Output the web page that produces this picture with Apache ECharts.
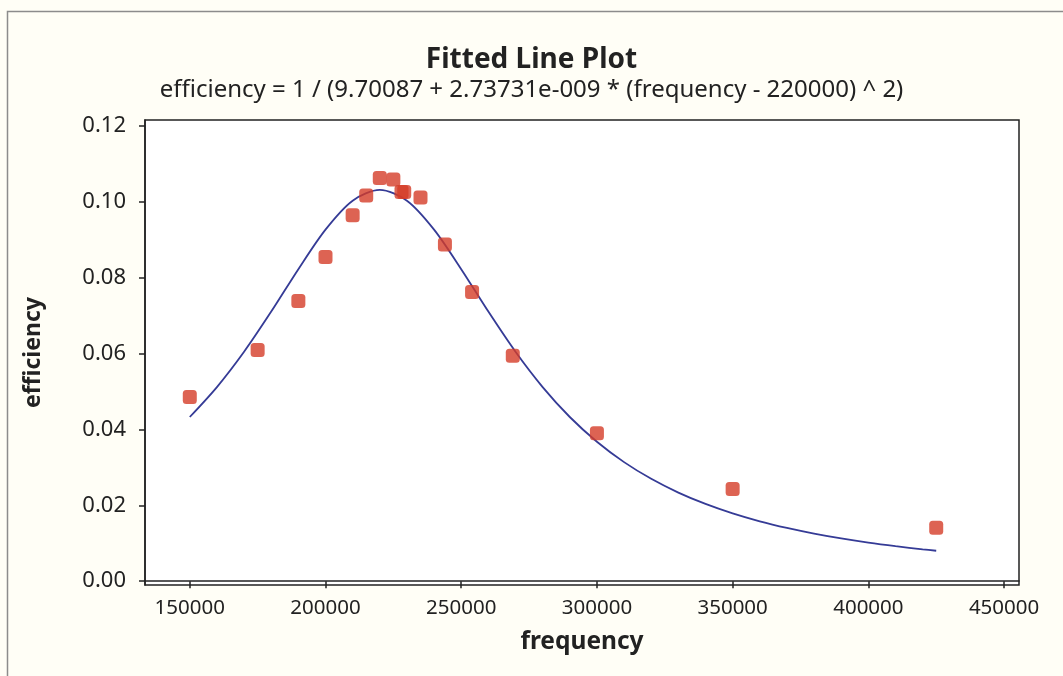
<!DOCTYPE html>
<html>
<head>
<meta charset="utf-8">
<title>Fitted Line Plot</title>
<script src="https://cdn.jsdelivr.net/npm/echarts@6/dist/echarts.min.js"></script>
<style>
  html, body { margin: 0; padding: 0; background: #fffef6; }
  #chart { width: 1063px; height: 676px; }
</style>
</head>
<body>
<div id="chart"></div>
<script>
// Measured points: frequency vs. efficiency
const frequency = [150000, 175000, 190000, 200000, 210000, 215000, 220000, 225000,
                   228000, 229000, 235000, 244000, 254000, 269000, 300000, 350000, 425000];
const efficiency = [0.0485, 0.0609, 0.0738, 0.0854, 0.0964, 0.1016, 0.1062, 0.1058,
                    0.1025, 0.1025, 0.1011, 0.0887, 0.0762, 0.0594, 0.0390, 0.0243, 0.0141];

// Fitted curve, sampled along the frequency range
const fitFrequency = [150000, 160000, 170000, 180000, 190000, 200000, 210000, 220000,
                      230000, 240000, 250000, 260000, 270000, 280000, 290000, 300000,
                      310000, 320000, 330000, 340000, 350000, 360000, 370000, 380000,
                      390000, 400000, 410000, 420000, 425000];
const fitEfficiency = [0.04326, 0.05114, 0.06044, 0.07102, 0.08221, 0.09263, 0.10025, 0.10308,
                       0.10025, 0.09263, 0.08221, 0.07102, 0.06044, 0.05114, 0.04326, 0.03674,
                       0.03137, 0.02697, 0.02335, 0.02036, 0.01787, 0.01578, 0.01403, 0.01254,
                       0.01126, 0.01016, 0.00922, 0.00839, 0.00802];

// Tick labels
const xTicks = [150000, 200000, 250000, 300000, 350000, 400000, 450000];
const yTicks = [0.00, 0.02, 0.04, 0.06, 0.08, 0.10, 0.12];

const titleText = 'Fitted Line Plot';
const equationText = 'efficiency = 1 / (9.70087 + 2.73731e-009 * (frequency - 220000) ^ 2)';

const FONT = '"Noto Sans", "DejaVu Sans", sans-serif';
const INK = '#222222';

const chart = echarts.init(document.getElementById('chart'), null, { renderer: 'canvas' });

chart.setOption({
  backgroundColor: '#fffef6',
  animation: false,
  title: {
    text: titleText,
    subtext: equationText,
    left: 'center',
    top: 41,
    itemGap: 4,
    textStyle: { fontFamily: FONT, fontSize: 28, fontWeight: 'bold', color: INK },
    subtextStyle: { fontFamily: FONT, fontSize: 24, color: INK }
  },
  graphic: [{
    type: 'rect',
    left: 5, top: 9,
    shape: { width: 1100, height: 700 },
    style: { fill: 'none', stroke: '#8c8c8c', lineWidth: 1.5 },
    silent: true,
    z: -1
  }],
  grid: {
    left: 145, right: 44, top: 120, bottom: 91,
    show: true,
    backgroundColor: '#ffffff',
    borderColor: INK,
    borderWidth: 1.5
  },
  xAxis: {
    type: 'value',
    min: 133500,
    max: 455500,
    name: 'frequency',
    nameLocation: 'middle',
    nameGap: 45,
    nameTextStyle: { fontFamily: FONT, fontSize: 24.5, fontWeight: 'bold', color: INK },
    axisLine: { show: true, lineStyle: { color: INK, width: 1.5 } },
    axisTick: { show: true, length: 7, customValues: xTicks, lineStyle: { color: INK, width: 1.5 } },
    axisLabel: {
      customValues: xTicks,
      margin: 13,
      fontFamily: FONT, fontSize: 20.5, color: INK,
      formatter: v => String(v)
    },
    splitLine: { show: false }
  },
  yAxis: {
    type: 'value',
    min: -0.001,
    max: 0.1215,
    name: 'efficiency',
    nameLocation: 'middle',
    nameGap: 100,
    nameTextStyle: { fontFamily: FONT, fontSize: 23, fontWeight: 'bold', color: INK },
    axisLine: { show: true, lineStyle: { color: INK, width: 1.5 } },
    axisTick: { show: true, length: 6, customValues: yTicks, lineStyle: { color: INK, width: 1.5 } },
    axisLabel: {
      customValues: yTicks,
      margin: 19,
      fontFamily: FONT, fontSize: 22, color: INK,
      formatter: v => v.toFixed(2)
    },
    splitLine: { show: false }
  },
  series: [
    {
      name: 'Fit',
      type: 'line',
      data: fitFrequency.map((f, i) => [f, fitEfficiency[i]]),
      smooth: 0.3,
      showSymbol: false,
      lineStyle: { color: '#353b96', width: 1.8 },
      z: 2
    },
    {
      name: 'Observed',
      type: 'scatter',
      data: frequency.map((f, i) => [f, efficiency[i]]),
      symbol: 'roundRect',
      symbolSize: 14,
      itemStyle: { color: '#d43c28' },
      z: 3
    }
  ]
});
</script>
</body>
</html>
